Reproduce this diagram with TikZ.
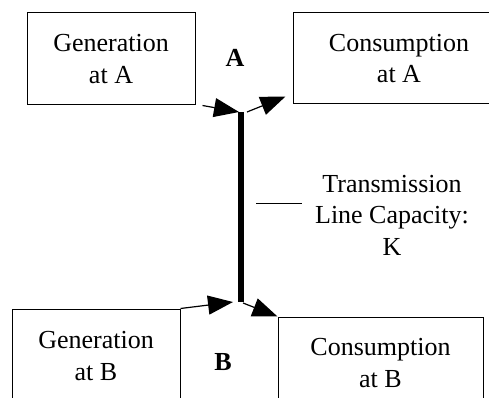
\documentclass[tikz,border=0pt]{standalone}
\usepackage{fontspec}
\setmainfont{Liberation Serif}
\usepackage{tikz}
\usetikzlibrary{arrows.meta}

\tikzset{
  region/.style={draw, line width=1pt, align=center, inner sep=0pt},
  flow/.style={line width=1.2pt, -{Triangle[length=25pt,width=19pt]}},
}

\begin{document}
\begin{tikzpicture}[x=1pt,y=-1pt,font=\fontsize{26}{31.5}\selectfont]
\useasboundingbox (0,0) rectangle (489,398);
\clip (0,0) rectangle (489,398);
% the four boxes
\node[region, minimum width=168pt, minimum height=92pt] (genA) at (111,59) {Generation\\at A};
\node[region, minimum width=212pt, minimum height=91pt] (conA) at (399,58.5) {Consumption\\at A};
\node[region, minimum width=168pt, minimum height=94pt] (genB) at (96,356) {Generation\\at B};
\node[region, minimum width=205pt, minimum height=92pt] (conB) at (380.5,363) {Consumption\\at B};
\node (labA) at (235,58) {\textbf{A}};
\node (labB) at (223,362) {\textbf{B}};
% the line between A and B
\coordinate (topA) at (241,112);
\coordinate (botB) at (241,302);
\draw[line width=6pt] (topA) -- (botB);
\node[align=center, inner xsep=13pt] (capK) at (392,215) {Transmission\\Line Capacity:\\K};
\coordinate (tick) at (256,203);
\draw[line width=1pt] (tick) -- (tick -| capK.west);
% flows in and out at A and B
\coordinate (inA) at (239,112);
\coordinate (outA) at (247,112);
\coordinate (inB) at (233,302);
\coordinate (outB) at (243,303);
\draw[flow] ([xshift=7pt]genA.south east) -- (inA);
\draw[flow] (outA) -- ([shift={(-7,-8)}]conA.south west);
\draw[flow] (genB.north east) -- (inB);
\draw[flow] (outB) -- (conB.north west);
\end{tikzpicture}
\end{document}
